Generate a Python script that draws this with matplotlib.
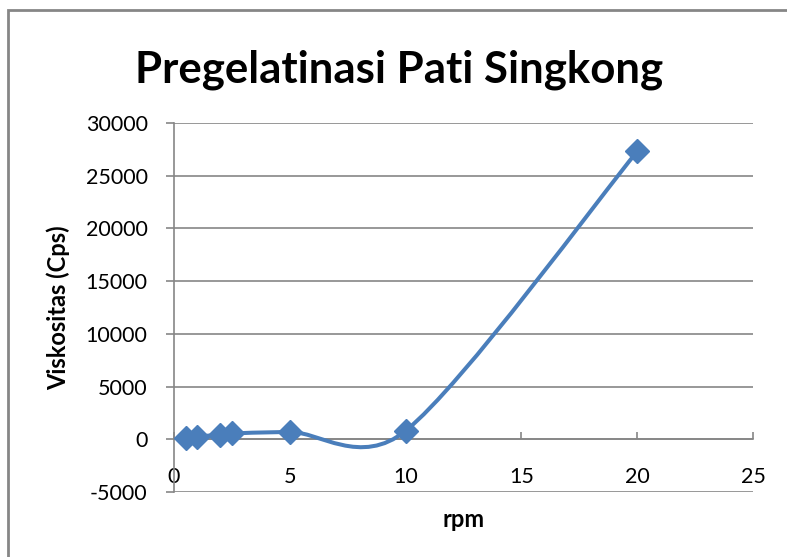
import numpy as np
import matplotlib.pyplot as plt
from matplotlib.patches import Rectangle, PathPatch
from matplotlib.path import Path
from matplotlib.transforms import IdentityTransform

plt.rcParams['font.family'] = ['Lato', 'DejaVu Sans']
plt.rcParams['axes.unicode_minus'] = False

rpm = [0.5, 1, 2, 2.5, 5, 10, 20]
visc = [150, 250, 450, 550, 700, 800, 27300]

title = 'Pregelatinasi Pati Singkong'
xlabel = 'rpm'
ylabel = 'Viskositas (Cps)'
xticks = [0, 5, 10, 15, 20, 25]
yticks = [-5000, 0, 5000, 10000, 15000, 20000, 25000, 30000]

blue = '#4A7EBB'
gray = '#868686'


def smooth_path(p, f=1.0 / 6, clamp=0.5):
	# Excel-like smoothed line: cubic bezier segments through the points,
	# control arms limited to a share of the segment length (pixel space)
	n = len(p)
	verts = [p[0]]
	codes = [Path.MOVETO]
	for i in range(n - 1):
		p0 = p[i - 1] if i > 0 else p[i]
		p3 = p[i + 2] if i + 2 < n else p[i + 1]
		seg = np.hypot(*(p[i + 1] - p[i]))
		a1 = (p[i + 1] - p0) * f
		a2 = (p3 - p[i]) * f
		for a in (a1, a2):
			l = np.hypot(*a)
			if l > clamp * seg:
				a *= clamp * seg / l
		verts += [p[i] + a1, p[i + 1] - a2, p[i + 1]]
		codes += [Path.CURVE4] * 3
	return Path(verts, codes)


fig = plt.figure(figsize=(7.87, 5.57), dpi=100)
ax = fig.add_axes([174 / 787, 1 - 492 / 557, (753 - 174) / 787, (492 - 123) / 557])

ax.set_xlim(0, 25)
ax.set_ylim(-5000, 30000)
ax.set_xticks(xticks)
ax.set_yticks(yticks)

pts = ax.transData.transform(np.column_stack([rpm, visc]))
ax.add_patch(PathPatch(smooth_path(pts), facecolor='none', edgecolor=blue, lw=2.9,
	zorder=3, transform=IdentityTransform()))
ax.plot(rpm, visc, linestyle='none', marker='D', markersize=12, color=blue,
	markeredgecolor=blue, zorder=4)

ax.grid(axis='y', color=gray, lw=1.2)
ax.set_axisbelow(True)
for s in ['top', 'right']:
	ax.spines[s].set_visible(False)
ax.spines['bottom'].set_position(('data', 0))
for s in ['bottom', 'left']:
	ax.spines[s].set_color(gray)
	ax.spines[s].set_linewidth(1.2)
ax.tick_params(axis='x', direction='in', length=5, color=gray, width=1.2, pad=20, labelsize=15.5)
ax.tick_params(axis='y', direction='out', length=6, color=gray, width=1.2, pad=13, labelsize=15.5)

ax.set_xlabel(xlabel, fontsize=17, fontweight='bold')
ax.xaxis.set_label_coords(0.5, 1 - (508 - 123) / (492 - 123))
ax.set_ylabel(ylabel, fontsize=17, fontweight='bold')
ax.yaxis.set_label_coords((70 - 174) / (753 - 174), 0.5)

fig.text(399 / 787, 1 - 70 / 557, title, fontsize=31.5, fontweight='bold',
	ha='center', va='center')

fig.patches.append(Rectangle((8 / 787, -0.1), 1.2, 1.1 - 10 / 557,
	transform=fig.transFigure, fill=False, edgecolor=gray, lw=2))

fig.savefig('out.png', dpi=100)
